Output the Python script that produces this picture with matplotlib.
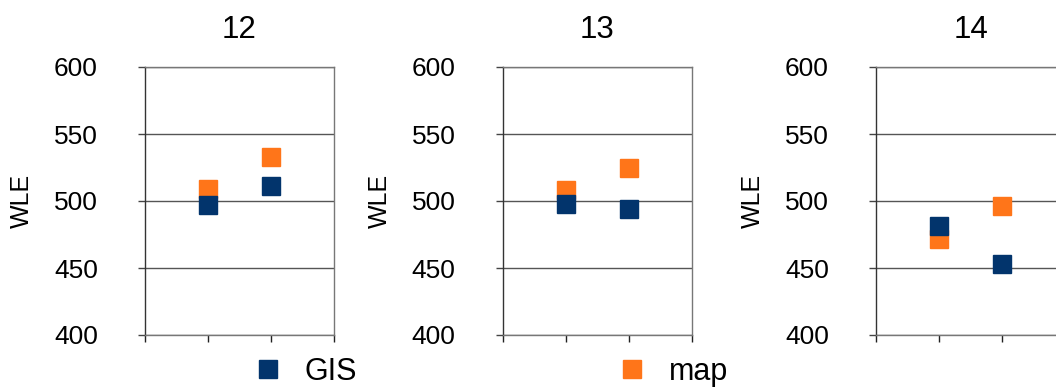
import matplotlib
matplotlib.use("Agg")
import matplotlib.pyplot as plt
from matplotlib.lines import Line2D

plt.rcParams['font.family'] = ['Liberation Sans', 'DejaVu Sans']

panels = ["12", "13", "14"]
positions = [1, 2]
gis_values = [[497, 511], [498, 494], [481, 453]]
map_values = [[509, 533], [508, 525], [472, 496]]
y_ticks = [400, 450, 500, 550, 600]

NAVY = "#02346c"
ORANGE = "#ff7519"

fig = plt.figure(figsize=(10.56, 3.87), dpi=100)

# left edge of each panel in pixels; the third one runs past the right border
lefts = [145, 502.7, 876]
for left, title, gis, mp in zip(lefts, panels, gis_values, map_values):
    ax = fig.add_axes([left / 1056, 52 / 387, 189 / 1056, 268 / 387])
    ax.plot(positions, mp, 's', color=ORANGE, markersize=13, zorder=3)
    ax.plot(positions, gis, 's', color=NAVY, markersize=13, zorder=4)
    ax.set_xlim(0, 3)
    ax.set_ylim(400, 600)
    ax.set_xticks([0, 1, 2, 3])
    ax.set_xticklabels([])
    ax.set_yticks(y_ticks)
    ax.tick_params(axis='y', length=5, width=1, pad=29, labelsize=19, color='#444')
    ax.tick_params(axis='x', length=5, width=1, color='#222')
    ax.grid(axis='y', color='#555555', linewidth=1)
    ax.set_axisbelow(True)
    for s in ax.spines.values():
        s.set_color('#777777')
        s.set_linewidth(1)
    ax.spines['left'].set_color('#333333')
    ax.set_title(title, fontsize=22.5, pad=21)
    ax.set_ylabel("WLE", fontsize=18)
    ax.yaxis.set_label_coords(-0.587, 0.5)

handles = [
    Line2D([], [], marker='s', linestyle='none', color=NAVY, markersize=12.5),
    Line2D([], [], marker='s', linestyle='none', color=ORANGE, markersize=12.5),
]
fig.legend(handles, ["GIS", "map"], ncol=2, frameon=False, fontsize=22,
           loc='center left', bbox_to_anchor=(0.2392, 0.04),
           handlelength=1, handletextpad=0.7, columnspacing=8.5,
           borderpad=0, borderaxespad=0)

fig.savefig("out.png", dpi=100)
